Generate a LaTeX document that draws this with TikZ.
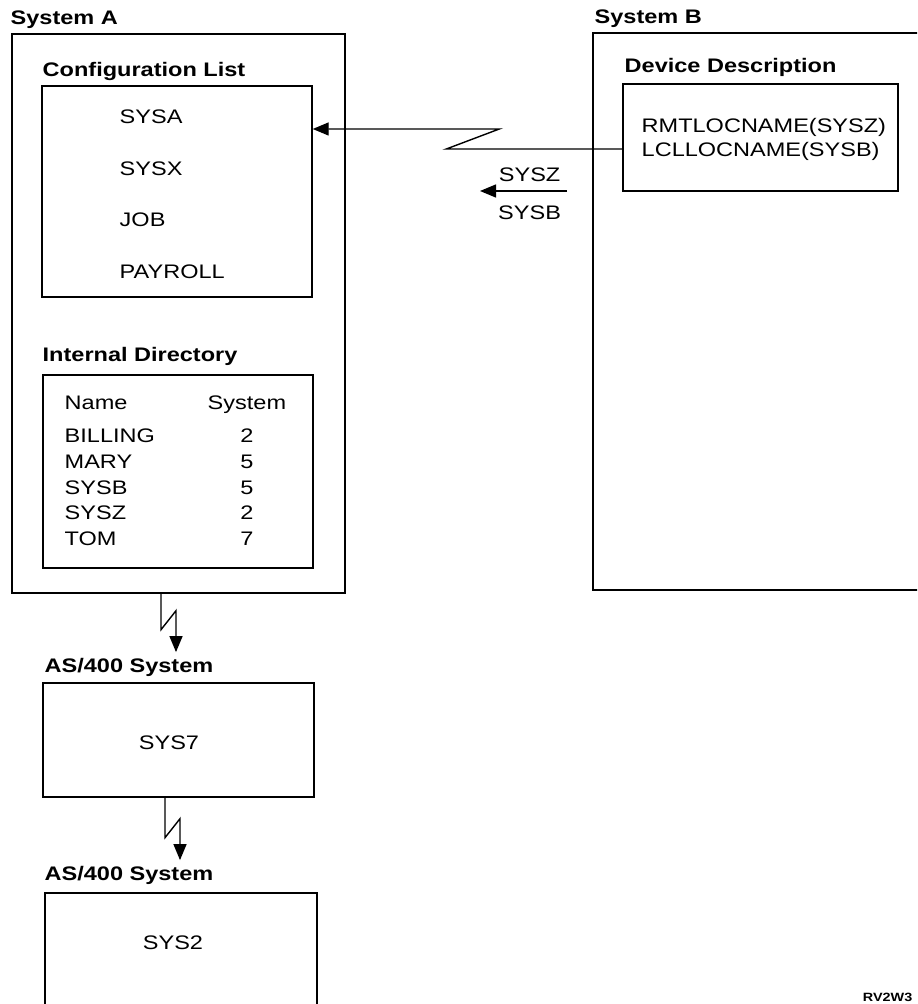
\documentclass[tikz,border=0pt]{standalone}
\usepackage{fontspec}
\setmainfont{Liberation Sans}[FakeStretch=1.2]
\usetikzlibrary{arrows.meta,positioning}

\begin{document}
\begin{tikzpicture}[x=0.5pt,y=-0.5pt,line width=0.7pt,
                    every node/.style={font=\fontsize{9.8pt}{12.75pt}\selectfont,inner sep=0pt}]
  \tikzstyle{box}=[draw,rectangle,inner sep=0pt]
  \tikzstyle{head}=[font=\fontsize{9.8pt}{12.75pt}\selectfont\bfseries,anchor=base west]
  \tikzstyle{item}=[anchor=base west]
  \tikzstyle{link}=[-{Triangle[length=8pt,width=6.5pt]}]

  \useasboundingbox (0,0) rectangle (917,1004);
  \clip (0,0) rectangle (917,1004);

  % System A
  \node[head]                                                   (sysAlbl) at (10,25)      {System A};
  \node[box,minimum width=166.5pt,minimum height=279.5pt]       (sysA)    at (178.5,313.5) {};
  \node[head]                                                   (cfglbl)  at (42,77)      {Configuration List};
  \node[box,minimum width=135pt,minimum height=105.5pt]         (cfg)     at (177,191.5)  {};
  \node[item]                                                   (sysa)    at (119,124)    {SYSA};
  \node[item] [below=25.75pt of sysa.base west,anchor=base west] (sysx)                   {SYSX};
  \node[item] [below=25.75pt of sysx.base west,anchor=base west] (job)                    {JOB};
  \node[item] [below=25.75pt of job.base west,anchor=base west]  (payroll)                {PAYROLL};
  \node[head]                                                   (dirlbl)  at (42,362)     {Internal Directory};
  \node[box,minimum width=135pt,minimum height=96.5pt]          (dir)     at (178,471.5)  {};
  \node[item]                                                   (dirtab)  at (64,410)
    {\begin{tabular}[t]{@{}p{71.5pt}@{}c@{}}
       Name    & System \\[3.75pt]
       BILLING & 2 \\
       MARY    & 5 \\
       SYSB    & 5 \\
       SYSZ    & 2 \\
       TOM     & 7
     \end{tabular}};

  % System B
  \node[head]                                                   (sysBlbl) at (594,24)     {System B};
  \node[box,minimum width=178.5pt,minimum height=278.5pt]       (sysB)    at (771.5,311.5) {};
  \node[head]                                                   (devlbl)  at (624,73)     {Device Description};
  \node[box,minimum width=137.5pt,minimum height=53.5pt]        (dev)     at (760.5,137.5) {};
  \node[item]                                                   (rmt)     at (641,133)    {RMTLOCNAME(SYSZ)};
  \node[item] [below=12pt of rmt.base west,anchor=base west]    (lcl)                     {LCLLOCNAME(SYSB)};

  % AS/400 systems
  \node[head]                                                   (as1lbl)  at (44,672)     {AS/400 System};
  \node[box,minimum width=135.5pt,minimum height=57pt]          (sys7box) at (178.5,740)  {};
  \node[anchor=base]                                            (sys7)    at (169,749)    {SYS7};
  \node[head]                                                   (as2lbl)  at (44,880)     {AS/400 System};
  \node[box,minimum width=136pt,minimum height=73.5pt]          (sys2box) at (181,966.5)  {};
  \node[anchor=base]                                            (sys2)    at (173,949)    {SYS2};

  \node[anchor=base east,font=\fontsize{6pt}{7pt}\selectfont\bfseries] (fig) at (913,1001) {RV2W3};

  % links
  \coordinate (nmR) at (567,191);
  \coordinate (nmL) at (480,191);
  \draw[link] (nmR) -- node[pos=0.43,above=4.5pt] (nmZ) {SYSZ}
                       node[pos=0.43,below=7pt]   (nmB) {SYSB} (nmL);

  \draw[link] (dev.west |- 0,149) -- ++(-176,0) -- ++(53,-20) -- (cfg.east |- 0,129);
  \draw[link,shorten >=2.5pt] (sysA.south -| 161,0) -- ++(0,36) -- ++(15,-19) -- (as1lbl.north -| 176,0);
  \draw[link,shorten >=2.5pt] (sys7box.south -| 165,0) -- ++(0,40) -- ++(15,-19) -- (as2lbl.north -| 180,0);
\end{tikzpicture}
\end{document}
